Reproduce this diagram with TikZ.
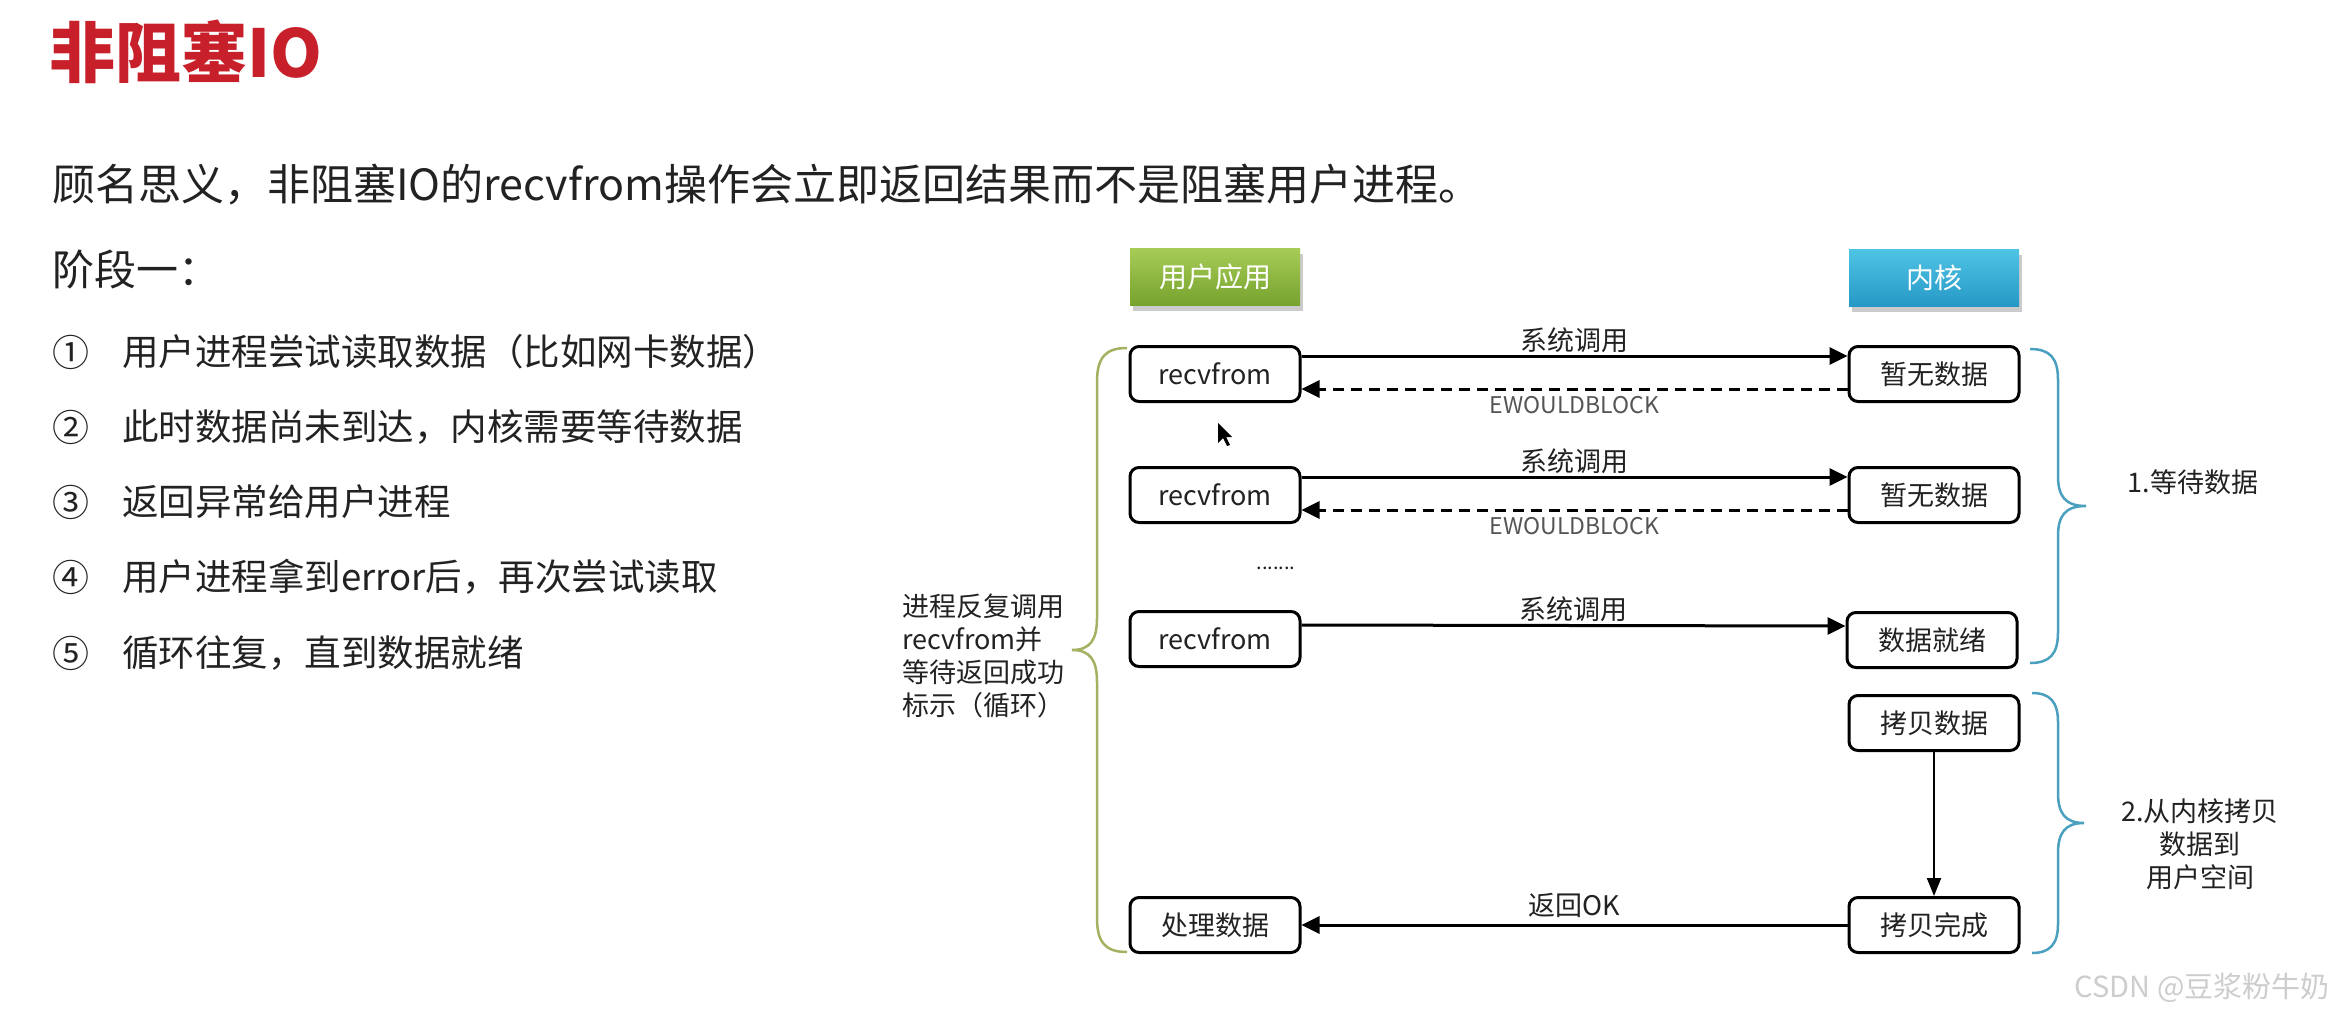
\documentclass[tikz,border=0pt]{standalone}
\usepackage{fontspec}
\newfontfamily\cjk{Noto Sans CJK SC}
\usetikzlibrary{arrows.meta,shadows}
\definecolor{titlered}{RGB}{200,32,42}
\definecolor{txt}{RGB}{34,34,34}
\definecolor{gtop}{RGB}{166,204,86}
\definecolor{gbot}{RGB}{118,162,46}
\definecolor{btop}{RGB}{78,196,228}
\definecolor{bbot}{RGB}{38,152,198}
\definecolor{olive}{RGB}{165,176,96}
\definecolor{teal}{RGB}{74,160,190}
\definecolor{ewgray}{RGB}{85,85,85}
\definecolor{wm}{RGB}{205,205,205}
\tikzset{
  fs/.style={font=\cjk\fontsize{#1}{#1}\selectfont},
  box/.style={draw=black, line width=3pt, rounded corners=9pt, fill=white,
    minimum width=170pt, minimum height=55pt, inner sep=0pt, text=txt,
    font=\cjk\fontsize{27}{32}\selectfont},
  hdr/.style={minimum width=170pt, minimum height=57pt, inner sep=0pt, text=white,
    font=\cjk\fontsize{28}{32}\selectfont,
    drop shadow={shadow xshift=3pt, shadow yshift=-5pt, fill=black!40, opacity=0.5}},
  arr/.style={line width=3pt, -{Triangle[length=18pt,width=17pt]}},
  darr/.style={line width=3pt, dash pattern=on 11pt off 7pt, -{Triangle[length=18pt,width=17pt]}},
  lbl/.style={text=txt, font=\cjk\fontsize{27}{32}\selectfont, inner sep=2pt},
  ewl/.style={text=ewgray, font=\cjk\fontsize{23}{26}\selectfont, inner sep=1pt},
  lbrace/.style={draw=olive, line width=2.5pt},
  rbrace/.style={draw=teal, line width=2.5pt},
  plain/.style={text=txt, inner sep=0pt, anchor=west},
}
\begin{document}
\begin{tikzpicture}[x=1pt,y=-1pt]
\useasboundingbox (0,0) rectangle (2327,1028);
\fill[white] (0,0) rectangle (2327,1028);

% title and text
\node[plain, text=titlered, anchor=west, font=\cjk\bfseries\fontsize{66}{72}\selectfont] (title) at (49,52) {非阻塞IO};
\node[plain, fs=43] (sub) at (52,185) {顾名思义，非阻塞IO的recvfrom操作会立即返回结果而不是阻塞用户进程。};
\node[plain, fs=42] (stage) at (52,269) {阶段一：};
\node[plain, fs=37] (c1) at (52,352) {①};
\node[plain, fs=36.5] (t1) at (122,352) {用户进程尝试读取数据（比如网卡数据）};
\node[plain, fs=37] (c2) at (52,427) {②};
\node[plain, fs=36.5] (t2) at (122,427) {此时数据尚未到达，内核需要等待数据};
\node[plain, fs=37] (c3) at (52,502) {③};
\node[plain, fs=36.5] (t3) at (122,502) {返回异常给用户进程};
\node[plain, fs=37] (c4) at (52,577) {④};
\node[plain, fs=36.5] (t4) at (122,577) {用户进程拿到error后，再次尝试读取};
\node[plain, fs=37] (c5) at (52,653) {⑤};
\node[plain, fs=36.5] (t5) at (122,653) {循环往复，直到数据就绪};

% headers
\node[hdr, top color=gtop, bottom color=gbot] (user) at (1215,277) {用户应用};
\node[hdr, top color=btop, bottom color=bbot] (kern) at (1934,278) {内核};

% boxes
\node[box] (r1) at (1215,374) {recvfrom};
\node[box] (k1) at (1934,374) {暂无数据};
\node[box] (r2) at (1215,495) {recvfrom};
\node[box] (k2) at (1934,495) {暂无数据};
\node[box] (r3) at (1215,639) {recvfrom};
\node[box] (k3) at (1932,640) {数据就绪};
\node[box] (k4) at (1934,723) {拷贝数据};
\node[box] (k5) at (1934,925) {拷贝完成};
\node[box] (r5) at (1215,925) {处理数据};

\node[text=txt, font=\cjk\fontsize{20}{24}\selectfont, inner sep=0pt] (dots) at (1276,568) {.......};

% arrows
\draw[arr] ([yshift=18pt]r1.east) -- node[lbl, above] {系统调用} ([yshift=18pt]k1.west);
\draw[darr] ([yshift=-15pt]k1.west) -- node[ewl, below=5pt] {EWOULDBLOCK} ([yshift=-15pt]r1.east);
\draw[arr] ([yshift=18pt]r2.east) -- node[lbl, above] {系统调用} ([yshift=18pt]k2.west);
\draw[darr] ([yshift=-15pt]k2.west) -- node[ewl, below=5pt] {EWOULDBLOCK} ([yshift=-15pt]r2.east);
\draw[arr] ([yshift=14pt]r3.east) -- node[lbl, above] {系统调用} ([yshift=14pt]k3.west);
\draw[line width=2pt, -{Triangle[length=18pt,width=14pt]}] (k4.south) -- (k5.north);
\draw[arr] (k5.west) -- node[lbl, above, yshift=4pt] {返回OK} (r5.east);

% braces
\draw[lbrace] (1127,348) .. controls (1105,348) and (1097,358) .. (1097,382) -- (1097,618)
  .. controls (1097,640) and (1090,650) .. (1072,650)
  .. controls (1090,650) and (1097,660) .. (1097,682) -- (1097,918)
  .. controls (1097,942) and (1105,952) .. (1127,952);
\draw[rbrace] (2030,349) .. controls (2050,349) and (2058,358) .. (2058,380) -- (2058,476)
  .. controls (2058,496) and (2065,506) .. (2086,506)
  .. controls (2065,506) and (2058,516) .. (2058,536) -- (2058,632)
  .. controls (2058,654) and (2050,663) .. (2030,663);
\draw[rbrace] (2032,693) .. controls (2050,693) and (2058,702) .. (2058,722) -- (2058,793)
  .. controls (2058,813) and (2065,823) .. (2084,823)
  .. controls (2065,823) and (2058,833) .. (2058,853) -- (2058,924)
  .. controls (2058,944) and (2050,953) .. (2032,953);

% brace labels
\node[plain, font=\cjk\fontsize{27}{33}\selectfont, align=left] (llab) at (902,656) {进程反复调用\\recvfrom并\\等待返回成功\\标示（循环）};
\node[lbl, anchor=center] (wait) at (2193,482) {1.等待数据};
\node[lbl, align=center, anchor=center, font=\cjk\fontsize{27}{33}\selectfont] (copy) at (2200,844) {2.从内核拷贝\\数据到\\用户空间};

% cursor
\fill[black] (1218,423) -- (1218,443) -- (1223,438) -- (1227,446) -- (1230,445) -- (1226,437) -- (1232,437) -- cycle;

% watermark
\node[text=wm, font=\cjk\fontsize{29}{34}\selectfont, inner sep=0pt] (wmk) at (2202,988) {CSDN @豆浆粉牛奶};
\end{tikzpicture}
\end{document}
